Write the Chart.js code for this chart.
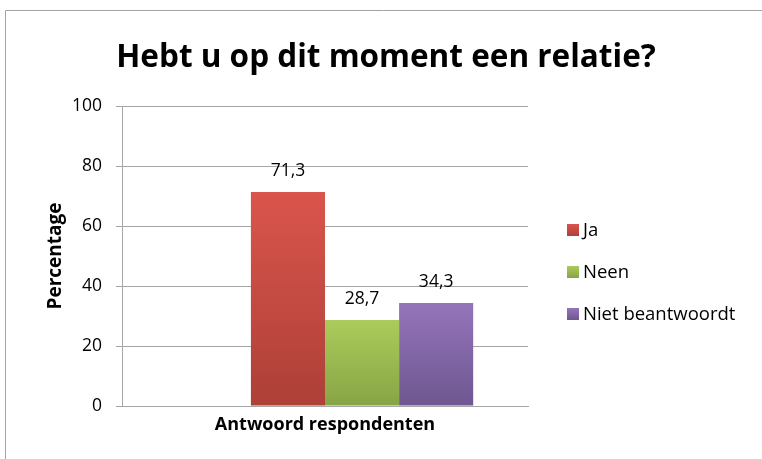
<!DOCTYPE html>
<html>
<head>
<meta charset="utf-8">
<script src="https://cdn.jsdelivr.net/npm/chart.js@4.4.0/dist/chart.umd.min.js"></script>
<style>
  html, body { margin: 0; padding: 0; background: #fff; }
  #wrap { width: 762px; height: 459px; }
</style>
</head>
<body>
<div id="wrap"><canvas id="myChart" width="762" height="459"></canvas></div>
<script>
// data
const categories = ["Antwoord respondenten"];
const leeg = [null];          // empty first series in the original sheet
const ja = [71.3];
const neen = [28.7];
const nietBeantwoordt = [34.3];
const yTicks = [0, 20, 40, 60, 80, 100];
const titleText = 'Hebt u op dit moment een relatie?';

const FONT = "'Open Sans', 'Noto Sans', sans-serif";

function barGradient(top, bottom) {
    return (c) => {
        const chart = c.chart;
        if (!chart.chartArea || c.type !== 'data' || c.parsed == null || c.parsed.y == null) return top;
        const y = chart.scales.y;
        const g = chart.ctx.createLinearGradient(0, y.getPixelForValue(c.parsed.y), 0, y.getPixelForValue(0));
        g.addColorStop(0, top);
        g.addColorStop(1, bottom);
        return g;
    };
}

const frame = {
    id: 'frame',
    beforeDraw(chart) {
        const ctx = chart.ctx;
        ctx.save();
        ctx.fillStyle = '#fff';
        ctx.fillRect(0, 0, chart.width, chart.height);
        ctx.strokeStyle = '#a3a3a3';
        ctx.lineWidth = 1;
        ctx.beginPath();
        ctx.moveTo(5.5, chart.height);
        ctx.lineTo(5.5, 10.5);
        ctx.lineTo(chart.width, 10.5);
        ctx.stroke();
        // title, centred over the whole frame
        ctx.font = "bold 31.5px " + FONT;
        ctx.fillStyle = '#000';
        ctx.textAlign = 'center';
        ctx.textBaseline = 'middle';
        ctx.fillText(titleText, 386, 58);
        ctx.restore();
    }
};

const valueLabels = {
    id: 'valueLabels',
    afterDatasetsDraw(chart) {
        const ctx = chart.ctx;
        ctx.save();
        ctx.font = "17.5px " + FONT;
        ctx.fillStyle = '#000';
        ctx.textAlign = 'center';
        ctx.textBaseline = 'middle';
        chart.data.datasets.forEach((ds, i) => {
            chart.getDatasetMeta(i).data.forEach((bar, j) => {
                const v = ds.data[j];
                if (v == null) return;
                ctx.fillText(String(v).replace('.', ','), bar.x, bar.y - 21);
            });
        });
        ctx.restore();
    }
};

const sideLegend = {
    id: 'sideLegend',
    afterDraw(chart) {
        const ctx = chart.ctx;
        ctx.save();
        ctx.font = "18.5px " + FONT;
        ctx.textBaseline = 'middle';
        let y = 230;
        chart.data.datasets.forEach((ds) => {
            if (!ds.label) return;
            const g = ctx.createLinearGradient(0, y - 6, 0, y + 6);
            g.addColorStop(0, ds.topColor);
            g.addColorStop(1, ds.bottomColor);
            ctx.fillStyle = g;
            ctx.fillRect(567, y - 6, 12, 12);
            ctx.fillStyle = '#000';
            ctx.fillText(ds.label, 583, y + 1);
            y += 42;
        });
        ctx.restore();
    }
};

function series(label, data, top, bottom) {
    return {
        label: label,
        data: data,
        topColor: top,
        bottomColor: bottom,
        backgroundColor: barGradient(top, bottom),
        categoryPercentage: 0.73,
        barPercentage: 1.0
    };
}

const ctx = document.getElementById("myChart").getContext("2d");
const myChart = new Chart(ctx, {
    type: 'bar',
    data: {
        labels: categories,
        datasets: [
            series('', leeg, '#ffffff', '#ffffff'),
            series('Ja', ja, '#da554c', '#ad4037'),
            series('Neen', neen, '#abcc5c', '#87a444'),
            series('Niet beantwoordt', nietBeantwoordt, '#9474ba', '#6e5790')
        ]
    },
    options: {
        responsive: false,
        animation: false,
        layout: { padding: { left: 0, right: 234, top: 106, bottom: 0 } },
        plugins: {
            legend: { display: false },
            tooltip: { enabled: false },
            title: { display: false }
        },
        scales: {
            x: {
                grid: { display: false },
                border: { display: true, color: '#a6a6a6' },
                ticks: {
                    color: '#000',
                    font: { family: FONT, size: 18, weight: 'bold' },
                    padding: 0
                },
                afterFit: (scale) => { scale.height = 53; }
            },
            y: {
                min: 0,
                max: 100,
                afterBuildTicks: (scale) => { scale.ticks = yTicks.map(v => ({ value: v })); },
                ticks: {
                    color: '#000',
                    font: { family: FONT, size: 17.5 },
                    padding: 14
                },
                grid: { color: '#a6a6a6', tickLength: 6 },
                border: { color: '#a6a6a6' },
                title: {
                    display: true,
                    text: 'Percentage',
                    color: '#000',
                    font: { family: FONT, size: 19, weight: 'bold' },
                    padding: { top: 44, bottom: 0 }
                },
                afterFit: (scale) => { scale.width = 122; }
            }
        }
    },
    plugins: [frame, valueLabels, sideLegend]
});
</script>
</body>
</html>
